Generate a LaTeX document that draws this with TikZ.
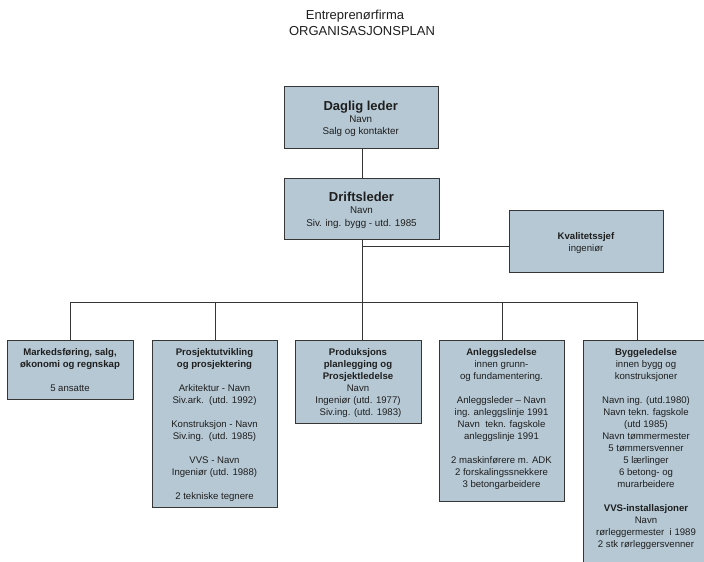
\documentclass[tikz,border=0pt]{standalone}
\usepackage{fontspec}
\setmainfont{Liberation Sans}
\usetikzlibrary{calc}
\definecolor{boxfill}{HTML}{B6C8D4}
\definecolor{boxline}{HTML}{363636}
\definecolor{txtcol}{HTML}{1E1E1E}
\tikzset{
  box/.style={draw=boxline, line width=1.1pt, fill=boxfill, inner sep=0pt, anchor=north west},
  txt/.style={text=txtcol, align=center, inner sep=0pt, anchor=north, font=\fontsize{9.6}{12}\selectfont},
  head/.style={text=txtcol, inner sep=0pt, anchor=base, font=\fontsize{13}{15}\selectfont\bfseries},
  ttl/.style={text=txtcol, inner sep=0pt, anchor=base, font=\fontsize{13}{15}\selectfont},
  conn/.style={draw=boxline, line width=1pt},
}
\begin{document}
\begin{tikzpicture}[x=1pt,y=-1pt]
\useasboundingbox (0,0) rectangle (704,562);
% titles
\node[ttl] (t1) at (355,19.5) {Entreprenørfirma};
\node[ttl] (t2) at (362,35.5) {ORGANISASJONSPLAN};
% boxes
\node[box, minimum width=154.5pt, minimum height=62pt] (dl) at (283.5,86) {};
\node[box, minimum width=155pt, minimum height=61pt] (dr) at (284,178) {};
\node[box, minimum width=154pt, minimum height=62pt] (kv) at (509,210) {};
\node[box, minimum width=126pt, minimum height=59pt] (m1) at (7,340) {};
\node[box, minimum width=125pt, minimum height=167pt] (m2) at (152,340) {};
\node[box, minimum width=126pt, minimum height=83pt] (m3) at (295,340) {};
\node[box, minimum width=125pt, minimum height=161pt] (m4) at (439,340) {};
\node[box, minimum width=126pt, minimum height=240pt] (m5) at (583,340) {};
% top texts
\node[head] (dlh) at (360.7,110.3) {Daglig leder};
\node[txt, font=\fontsize{9.8}{12.4}\selectfont] (dlt) at (360.7,115.6) {Navn\\Salg og kontakter};
\node[head] (drh) at (361.5,201.3) {Driftsleder};
\node[txt, font=\fontsize{9.8}{12.6}\selectfont] (drt) at (361.5,207) {Navn\\Siv. ing. bygg - utd. 1985};
\node[txt] (kvt) at (586,232.3) {\textbf{Kvalitetssjef}\\ingeniør};
% lower texts
\node[txt] (m1t) at (70,348.6) {\textbf{Markedsføring, salg,}\\\textbf{økonomi og regnskap}\\[12pt]5 ansatte};
\node[txt] (m2t) at (214.5,348.6) {\textbf{Prosjektutvikling}\\\textbf{og prosjektering}\\[12pt]Arkitektur - Navn\\Siv.ark.\ \ (utd. 1992)\\[12pt]Konstruksjon - Navn\\Siv.ing.\ \ (utd. 1985)\\[12pt]VVS - Navn\\Ingeniør (utd. 1988)\\[12pt]2 tekniske tegnere};
\node[txt] (m3t) at (358,348.6) {\textbf{Produksjons}\\\textbf{planlegging og}\\\textbf{Prosjektledelse}\\Navn\\Ingeniør (utd. 1977)\\\hspace*{5pt}Siv.ing. (utd. 1983)};
\node[txt] (m4t) at (501.5,348.6) {\textbf{Anleggsledelse}\\innen grunn-\\og fundamentering.\\[12pt]Anleggsleder – Navn\\ing. anleggslinje 1991\\Navn\ \ tekn. fagskole\\anleggslinje 1991\\[12pt]2 maskinførere m. ADK\\2 forskalingssnekkere\\3 betongarbeidere};
\node[txt] (m5t) at (646,348.6) {\textbf{Byggeledelse}\\innen bygg og\\konstruksjoner\\[12pt]Navn ing. (utd.1980)\\Navn tekn. fagskole\\(utd 1985)\\Navn tømmermester\\5 tømmersvenner\\5 lærlinger\\6 betong- og\\murarbeidere\\[12pt]\textbf{VVS-installasjoner}\\Navn\\rørleggermester\ \ i 1989\\2 stk rørleggersvenner};
% connectors
\coordinate (bus) at (0,302);
\coordinate (v5) at ($(m5.north west)+(54,0)$);
\draw[conn] (dr.north) -- (dr.north |- dl.south);
\draw[conn] (dr.south) -- (dr.south |- bus);
\draw[conn] ($(dr.south)+(0,6)$) coordinate (kj) -- (kj -| kv.west);
\draw[conn] (m1.north) -- (m1.north |- bus) -- (v5 |- bus) -- (v5);
\draw[conn] (m2.north) -- (m2.north |- bus);
\draw[conn] (dr.south |- bus) -- (dr.south |- m3.north);
\draw[conn] (m4.north) -- (m4.north |- bus);
\end{tikzpicture}
\end{document}
